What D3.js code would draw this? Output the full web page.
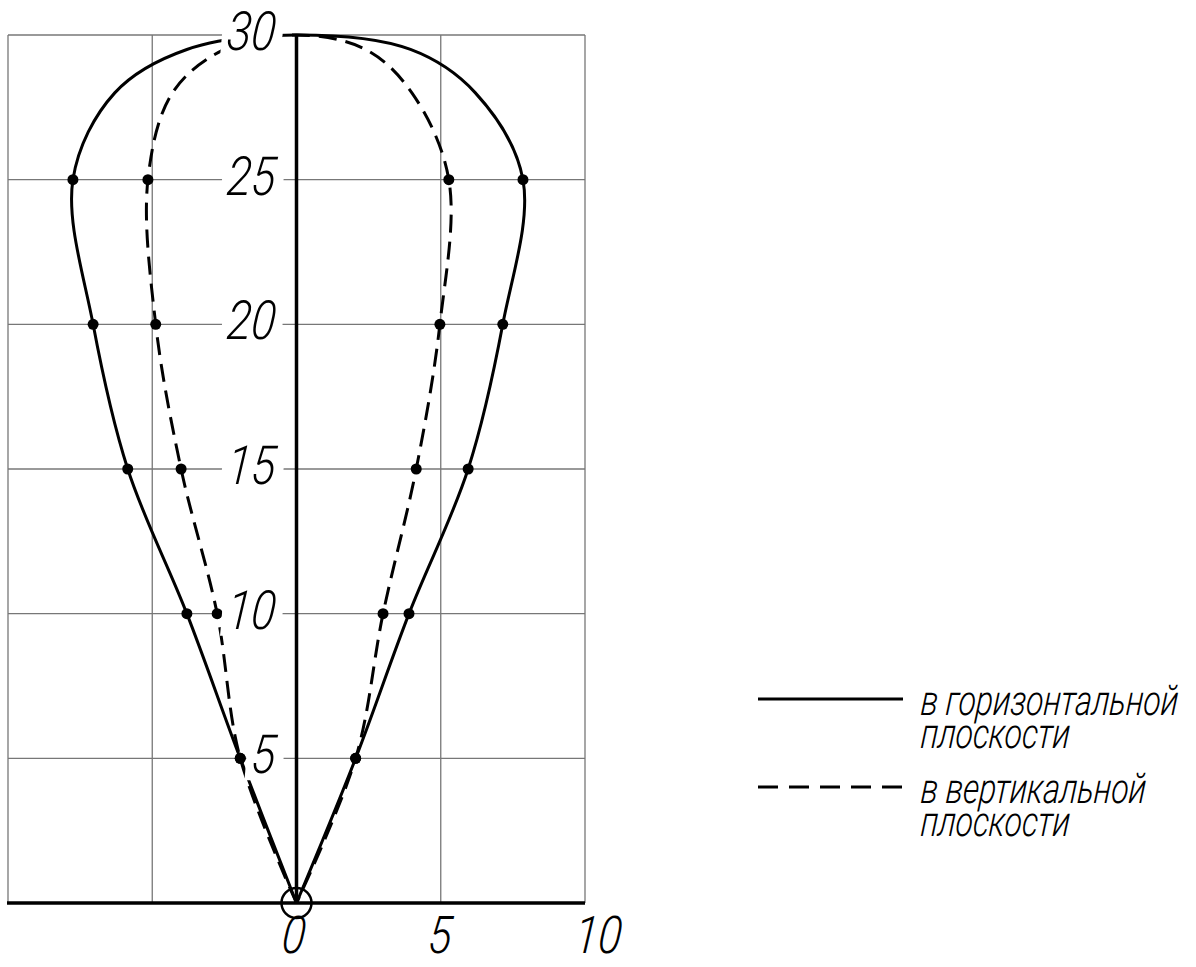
<!DOCTYPE html>
<html>
<head>
<meta charset="utf-8">
<script src="https://cdn.jsdelivr.net/npm/d3@7"></script>
<style>
  body { margin: 0; background: #fff; }
  text { font-family: Roboto, "DejaVu Sans", sans-serif; font-style: italic; font-weight: 300; fill: #000; }
</style>
</head>
<body>
<div id="chart"></div>
<script>
// heights along the axis (curve knots), and which of them carry a dot
const levels = [0, 5, 10, 15, 20, 25, 28, 29.5, 30];
const dotLevels = [5, 10, 15, 20, 25];

// in the horizontal plane (solid)
const horizLeft  = [0, -1.95, -3.8, -5.85, -7.05, -7.75, -6.3, -3.8, 0];
const horizRight = [0, 2.05, 3.9, 5.95, 7.15, 7.85, 6.2, 3.95, 0];
// in the vertical plane (dashed)
const vertLeft  = [0, -1.95, -2.75, -4.0, -4.88, -5.15, -4.3, -2.5, 0];
const vertRight = [0, 2.05, 3.0, 4.15, 4.97, 5.28, 4.0, 2.4, 0];

const yTicks = [5, 10, 15, 20, 25, 30];
const xTicks = [0, 5, 10];
const xGrid = [-10, -5, 5, 10];
const legendLabels = [["в горизонтальной", "плоскости"], ["в вертикальной", "плоскости"]];

const width = 1196, height = 967;
const squeeze = 'scale(0.84,1) skewX(-6)';

const x = d3.scaleLinear().domain([-10, 10]).range([8, 585]);
const y = d3.scaleLinear().domain([0, 30]).range([903, 35]);

const svg = d3.select('#chart')
  .append('svg')
    .attr('width', width)
    .attr('height', height);

// grid
svg.append('g')
  .selectAll('line')
  .data(yTicks)
  .join('line')
    .attr('x1', x(-10)).attr('x2', x(10))
    .attr('y1', d => y(d)).attr('y2', d => y(d))
    .attr('stroke', '#777').attr('stroke-width', 1.3);

svg.append('g')
  .selectAll('line')
  .data(xGrid)
  .join('line')
    .attr('x1', d => x(d)).attr('x2', d => x(d))
    .attr('y1', y(0)).attr('y2', y(30))
    .attr('stroke', '#777').attr('stroke-width', 1.3);

// build the loop: up the left side, then down the right side
function loop(left, right) {
  const pts = levels.map((l, i) => [left[i], l]);
  for (let i = levels.length - 2; i >= 0; i--) pts.push([right[i], levels[i]]);
  return pts;
}

const line = d3.line()
  .x(d => x(d[0]))
  .y(d => y(d[1]))
  .curve(d3.curveCatmullRom.alpha(0.5));

svg.append('path')
  .datum(loop(horizLeft, horizRight))
  .attr('d', line)
  .attr('fill', 'none')
  .attr('stroke', '#000')
  .attr('stroke-width', 3);

svg.append('path')
  .datum(loop(vertLeft, vertRight))
  .attr('d', line)
  .attr('fill', 'none')
  .attr('stroke', '#000')
  .attr('stroke-width', 3)
  .attr('stroke-dasharray', '18,9');

// dots
const dots = [];
[horizLeft, horizRight, vertLeft, vertRight].forEach(s => {
  levels.forEach((l, i) => { if (dotLevels.includes(l)) dots.push([s[i], l]); });
});
svg.append('g')
  .selectAll('circle')
  .data(dots)
  .join('circle')
    .attr('cx', d => x(d[0]))
    .attr('cy', d => y(d[1]))
    .attr('r', 5.5)
    .attr('fill', '#000');

// y labels with white background (they break the grid lines)
const yl = svg.append('g')
  .selectAll('g')
  .data(yTicks)
  .join('g')
    .attr('transform', d => `translate(${x(0) - 22},${y(d) + 15}) ${squeeze}`);
yl.append('text')
  .attr('text-anchor', 'end')
  .attr('font-size', 54)
  .text(d => d);
yl.each(function () {
  const b = d3.select(this).select('text').node().getBBox();
  d3.select(this).insert('rect', 'text')
    .attr('x', b.x - 6).attr('y', b.y + 6)
    .attr('width', b.width + 14).attr('height', b.height - 12)
    .attr('fill', '#fff');
});

// axes
svg.append('line')
  .attr('x1', x(0)).attr('x2', x(0))
  .attr('y1', y(30)).attr('y2', y(0))
  .attr('stroke', '#000').attr('stroke-width', 3.5);
svg.append('line')
  .attr('x1', 7).attr('x2', x(10))
  .attr('y1', y(0)).attr('y2', y(0))
  .attr('stroke', '#000').attr('stroke-width', 3.5);
svg.append('circle')
  .attr('cx', x(0)).attr('cy', y(0)).attr('r', 15)
  .attr('fill', 'none').attr('stroke', '#000').attr('stroke-width', 2.5);

// x labels
svg.append('g')
  .selectAll('g')
  .data(xTicks)
  .join('g')
    .attr('transform', d => `translate(${x(d) + (d === 10 ? 12 : d === 0 ? -4 : -2)},${y(0) + 50}) ${squeeze}`)
  .append('text')
    .attr('text-anchor', 'middle')
    .attr('font-size', 52)
    .text(d => d);

// legend
const lg = svg.append('g')
  .selectAll('g')
  .data(legendLabels)
  .join('g')
    .attr('transform', (d, i) => `translate(758,${699 + i * 88})`);
lg.append('line')
  .attr('x1', 0).attr('x2', 145)
  .attr('stroke', '#000').attr('stroke-width', 3)
  .attr('stroke-dasharray', (d, i) => i ? '20,11' : null);
lg.append('g')
  .attr('transform', `translate(162,16) scale(0.76,1) skewX(-6)`)
  .append('text')
    .attr('font-size', 42)
    .text(d => d[0]);
lg.append('g')
  .attr('transform', `translate(162,49) scale(0.76,1) skewX(-6)`)
  .append('text')
    .attr('font-size', 42)
    .text(d => d[1]);
</script>
</body>
</html>
